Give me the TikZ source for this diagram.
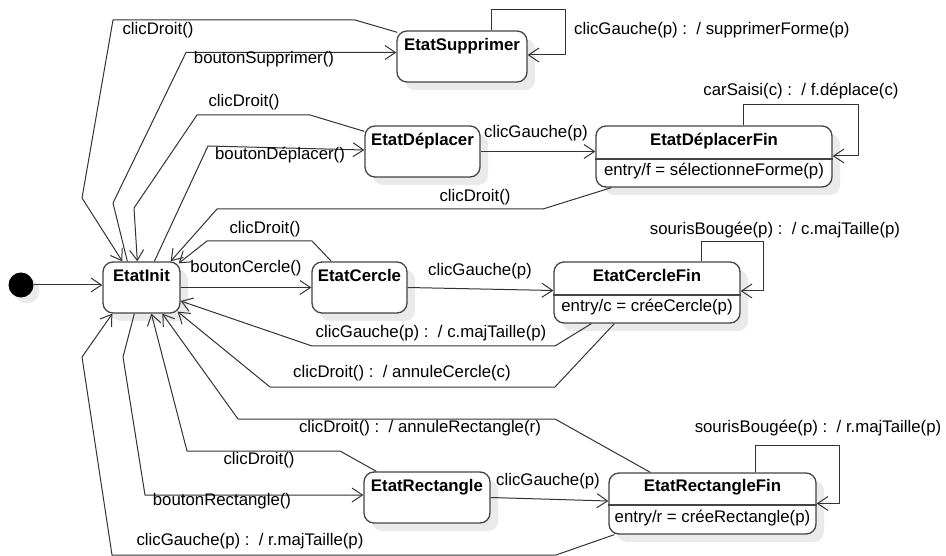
\documentclass[tikz,border=0pt]{standalone}
\usepackage{fontspec}
\setmainfont{Liberation Sans}
\usetikzlibrary{arrows.meta,shadows}

\definecolor{linegray}{HTML}{333333}
\definecolor{boxgray}{HTML}{444444}
\definecolor{shadowgray}{HTML}{EAEAEA}

\begin{document}
\begin{tikzpicture}[x=1pt,y=-1pt,line join=round,
  wire/.style={draw=linegray,line width=1pt,-{Straight Barb[length=10.5pt,width=14pt]}},
  divider/.style={draw=boxgray,line width=1.2pt},
  statebox/.style={draw=boxgray,line width=1.3pt,rounded corners=10pt,fill=white,inner sep=0pt,
    drop shadow={shadow xshift=8pt,shadow yshift=-8pt,fill=shadowgray,opacity=1}},
  initdot/.style={circle,fill=black,inner sep=0pt,minimum size=25pt,
    drop shadow={shadow xshift=6pt,shadow yshift=-6pt,fill=shadowgray,opacity=1}},
  ttl/.style={font=\fontsize{16.8pt}{20pt}\selectfont\bfseries,inner sep=0pt,text height=0.75em,text depth=0.25em},
  lbl/.style={font=\fontsize{16.8pt}{20pt}\selectfont,inner sep=0pt,text height=0.75em,text depth=0.25em},
]
\path[fill=white] (0,0) rectangle (946,556);
\useasboundingbox (0,0) rectangle (946,556);

% ---- states ----
\node[initdot] (start) at (21,285) {};

\node[statebox,minimum width=77pt,minimum height=51pt] (init) at (141.5,287.5) {};
\node[ttl] (init-t) at (141.5,279) {EtatInit};

\node[statebox,minimum width=130pt,minimum height=51pt] (sup) at (462,56.5) {};
\node[ttl] (sup-t) at (462,48) {EtatSupprimer};

\node[statebox,minimum width=115pt,minimum height=51pt] (dep) at (422.5,151.5) {};
\node[ttl] (dep-t) at (422.5,143) {EtatDéplacer};

\node[statebox,minimum width=236pt,minimum height=61pt] (depfin) at (714,156.5) {};
\node[ttl] (depfin-t) at (714,143) {EtatDéplacerFin};
\draw[divider] (depfin.west |- 0,159) -- (depfin.east |- 0,159);
\node[lbl] (depfin-e) at (714,173) {entry/f = sélectionneForme(p)};

\node[statebox,minimum width=95pt,minimum height=51pt] (cer) at (359.5,287.5) {};
\node[ttl] (cer-t) at (359.5,279) {EtatCercle};

\node[statebox,minimum width=186pt,minimum height=61pt] (cerfin) at (647,292.5) {};
\node[ttl] (cerfin-t) at (647,279) {EtatCercleFin};
\draw[divider] (cerfin.west |- 0,295) -- (cerfin.east |- 0,295);
\node[lbl] (cerfin-e) at (647,309) {entry/c = créeCercle(p)};

\node[statebox,minimum width=126pt,minimum height=51pt] (rect) at (427,497.5) {};
\node[ttl] (rect-t) at (427,489) {EtatRectangle};

\node[statebox,minimum width=207pt,minimum height=61pt] (rectfin) at (712.5,503.5) {};
\node[ttl] (rectfin-t) at (712.5,489) {EtatRectangleFin};
\draw[divider] (rectfin.west |- 0,505) -- (rectfin.east |- 0,505);
\node[lbl] (rectfin-e) at (712.5,520) {entry/r = créeRectangle(p)};

% ---- transitions ----
\draw[wire] (start.east) -- (init.west |- start.east);

% supprimer
\draw[wire] ([shift={(1,2)}]sup.north west) -- (355,20) -- (113,20) -- (82,198) -- ([shift={(20,0)}]init.north west);
\node[lbl] (l-sup-cd) at (158,32) {clicDroit()};
\draw[wire] ([shift={(25,0)}]init.north west) -- (113,203) -- (186,52.5) -- ([shift={(0,-4)}]sup.west);
\node[lbl] (l-sup-bt) at (264,61) {boutonSupprimer()};
\draw[wire] ([shift={(-36,0)}]sup.north east) -- ++(0,-21) -| ([shift={(38,-1.5)}]sup.east) -- ([shift={(0,-1.5)}]sup.east);
\node[lbl,anchor=west] (l-sup-cg) at (574,32) {clicGauche(p) :~~/ supprimerForme(p)};

% deplacer
\draw[wire] ([shift={(0,6)}]dep.north west) -- (310,115) -- (197,115) -- (134,208) -- ([shift={(35,0)}]init.north west);
\node[lbl] (l-dep-cd) at (244,104) {clicDroit()};
\draw[wire] ([shift={(52,0)}]init.north west) -- (208,146) -- ([shift={(0,-1.5)}]dep.west);
\node[lbl] (l-dep-bt) at (280,157) {boutonDéplacer()};
\draw[wire] (dep.east) -- (depfin.west |- dep.east);
\node[lbl] (l-dep-cg) at (536,135) {clicGauche(p)};
\draw[wire] ([shift={(-89,0)}]depfin.north east) -- ++(0,-21) -| ([shift={(26,-0.5)}]depfin.east) -- ([shift={(0,-0.5)}]depfin.east);
\node[lbl] (l-depfin-cs) at (801,93) {carSaisi(c) :~~/ f.déplace(c)};
\draw[wire] ([shift={(16,0)}]depfin.south west) -- (543,209) -- (217,209) -- ([shift={(-10,0)}]init.north east);
\node[lbl] (l-depfin-cd) at (475,199) {clicDroit()};

% cercle
\draw[wire] ([shift={(20,0)}]cer.north west) -- (312,241) -- (207,241) -- ([shift={(-2,2)}]init.north east);
\node[lbl] (l-cer-cd) at (265,231) {clicDroit()};
\draw[wire] (init.east) -- (cer.west);
\node[lbl] (l-cer-bt) at (246,270) {boutonCercle()};
\draw[wire] (cer.east) -- ([shift={(0,-2)}]cerfin.west);
\node[lbl] (l-cer-cg) at (480,273) {clicGauche(p)};
\draw[wire] ([shift={(-39,0)}]cerfin.north east) -- ++(0,-20) -| ([shift={(23,-1.5)}]cerfin.east) -- ([shift={(0,-1.5)}]cerfin.east);
\node[lbl] (l-cerfin-sb) at (775,232) {sourisBougée(p) :~~/ c.majTaille(p)};
\draw[wire] ([shift={(38,0)}]cerfin.south west) -- (555,346) -- (312,346) -- ([shift={(0,13.5)}]init.east);
\node[lbl] (l-cerfin-cg) at (431,335) {clicGauche(p) :~~/ c.majTaille(p)};
\draw[wire] ([shift={(61,0)}]cerfin.south west) -- (555,387) -- (270,387) -- ([shift={(-3,-2)}]init.south east);
\node[lbl] (l-cerfin-cd) at (402,375) {clicDroit() :~~/ annuleCercle(c)};

% rectangle
\draw[wire] ([shift={(42,0)}]rectfin.north west) -- (555,419) -- (238,419) -- ([shift={(60,0)}]init.south west);
\node[lbl] (l-rectfin-cd) at (420,430) {clicDroit() :~~/ annuleRectangle(r)};
\draw[wire] ([shift={(13,0)}]rect.north west) -- (340,451) -- (187,451) -- ([shift={(49,0)}]init.south west);
\node[lbl] (l-rect-cd) at (259,462) {clicDroit()};
\draw[wire] ([shift={(32,0)}]init.south west) -- (123,357) -- (145,495) -- ([shift={(0,-2.5)}]rect.west);
\node[lbl] (l-rect-bt) at (222,503) {boutonRectangle()};
\draw[wire] (rect.east) -- ([shift={(0,-2.5)}]rectfin.west);
\node[lbl] (l-rect-cg) at (548,483) {clicGauche(p)};
\draw[wire] ([shift={(-61,0)}]rectfin.north east) -- ++(0,-27) -| ([shift={(23,0)}]rectfin.east) -- (rectfin.east);
\node[lbl] (l-rectfin-sb) at (818,430) {sourisBougée(p) :~~/ r.majTaille(p)};
\draw[wire] ([shift={(6,0)}]rectfin.south west) -- (556,555) -- (112,555) -- (82,357) -- ([shift={(10,0)}]init.south west);
\node[lbl] (l-rectfin-cg) at (250,543) {clicGauche(p) :~~/ r.majTaille(p)};
\end{tikzpicture}
\end{document}
